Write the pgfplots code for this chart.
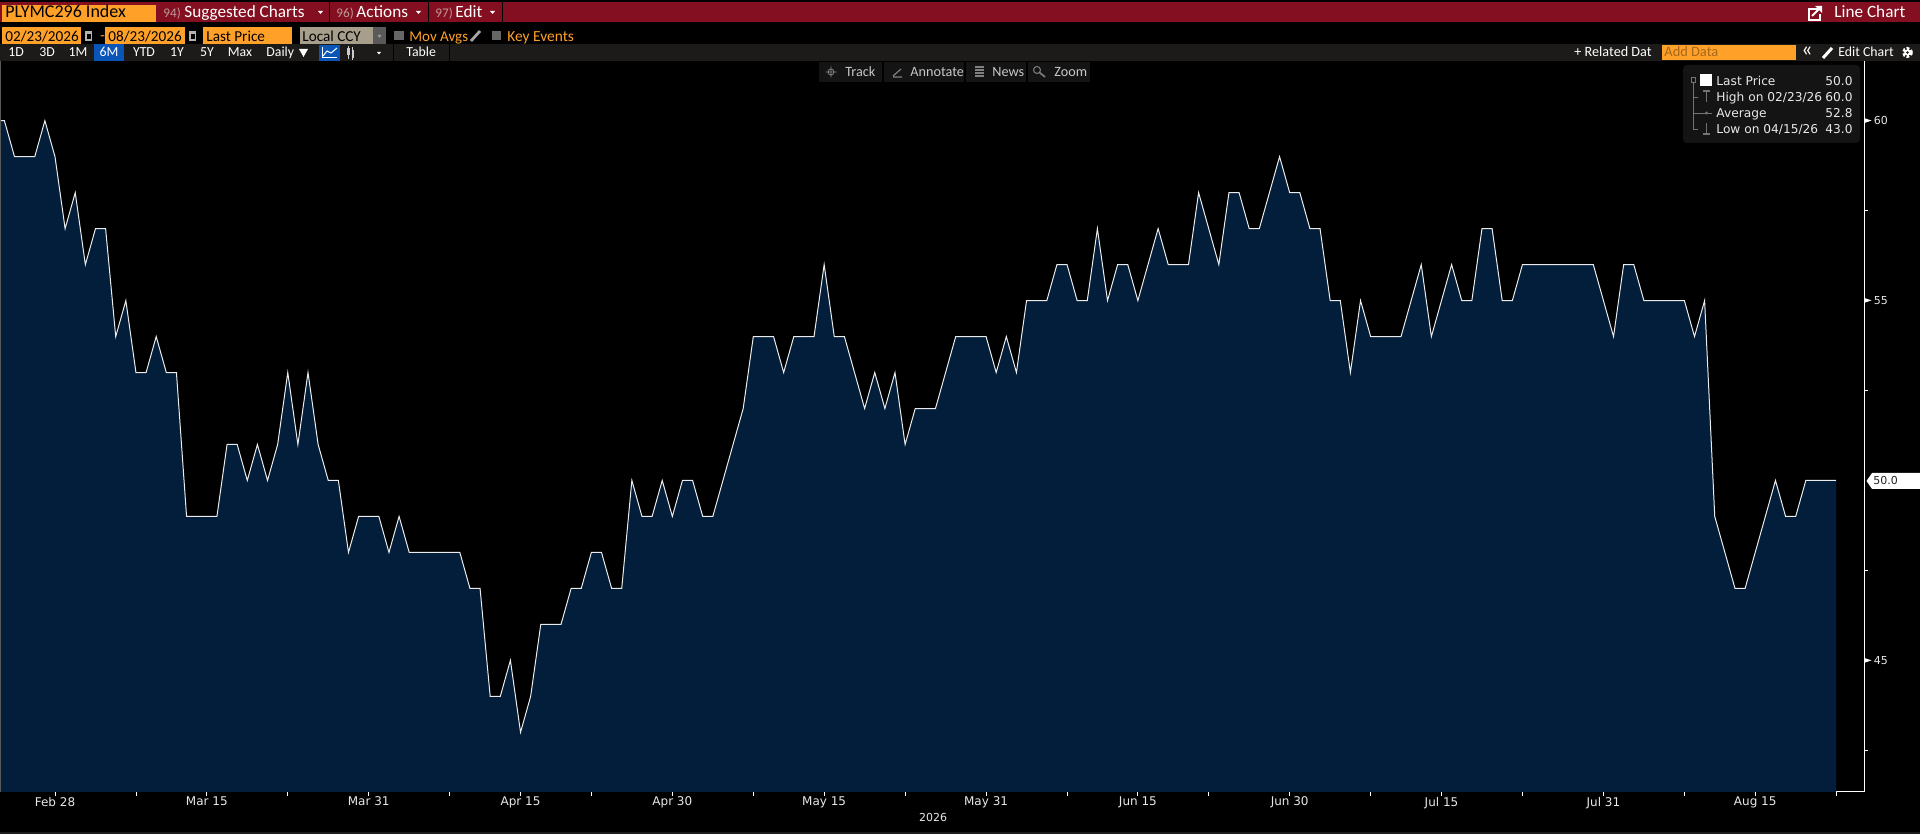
\documentclass[border=0pt]{standalone}
\usepackage{fontspec}
\setmainfont{DejaVu Sans}
\newfontfamily\carl{Carlito}
\usepackage{pgfplots}
\usepackage{pgfplotstable}
\pgfplotsset{compat=1.18}
\definecolor{navy}{HTML}{021E3A}
\definecolor{barred}{HTML}{830F20}
\definecolor{orng}{HTML}{FFA028}
\definecolor{strip}{HTML}{1C1B1A}
\definecolor{blu}{HTML}{0A55B8}
\definecolor{tan}{HTML}{A89E8C}
\definecolor{lg}{HTML}{141414}
\definecolor{txt}{HTML}{E8E8E8}
\pgfplotstableread{
x y
-0.435 60
0 60
1 59
2 59
3 59
4 60
5 59
6 57
7 58
8 56
9 57
10 57
11 54
12 55
13 53
14 53
15 54
16 53
17 53
18 49
19 49
20 49
21 49
22 51
23 51
24 50
25 51
26 50
27 51
28 53
29 51
30 53
31 51
32 50
33 50
34 48
35 49
36 49
37 49
38 48
39 49
40 48
41 48
42 48
43 48
44 48
45 48
46 47
47 47
48 44
49 44
50 45
51 43
52 44
53 46
54 46
55 46
56 47
57 47
58 48
59 48
60 47
61 47
62 50
63 49
64 49
65 50
66 49
67 50
68 50
69 49
70 49
71 50
72 51
73 52
74 54
75 54
76 54
77 53
78 54
79 54
80 54
81 56
82 54
83 54
84 53
85 52
86 53
87 52
88 53
89 51
90 52
91 52
92 52
93 53
94 54
95 54
96 54
97 54
98 53
99 54
100 53
101 55
102 55
103 55
104 56
105 56
106 55
107 55
108 57
109 55
110 56
111 56
112 55
113 56
114 57
115 56
116 56
117 56
118 58
119 57
120 56
121 58
122 58
123 57
124 57
125 58
126 59
127 58
128 58
129 57
130 57
131 55
132 55
133 53
134 55
135 54
136 54
137 54
138 54
139 55
140 56
141 54
142 55
143 56
144 55
145 55
146 57
147 57
148 55
149 55
150 56
151 56
152 56
153 56
154 56
155 56
156 56
157 56
158 55
159 54
160 56
161 56
162 55
163 55
164 55
165 55
166 55
167 54
168 55
169 49
170 48
171 47
172 47
173 48
174 49
175 50
176 49
177 49
178 50
179 50
180 50
181 50
}\pricetable
% px-based text helpers: #1 x, #2 baseline y, #3 anchor, #4 size, #5 colour, #6 text
\newcommand{\C}[6]{\node[anchor=#3,inner sep=0pt,text=#5,font=\carl\fontsize{#4}{#4}\selectfont] at (#1,#2) {#6};}
\newcommand{\D}[6]{\node[anchor=#3,inner sep=0pt,text=#5,font=\fontsize{#4}{#4}\selectfont] at (#1,#2) {#6};}
\begin{document}
\begin{tikzpicture}
\useasboundingbox (0,0) rectangle (960pt,417pt);
\fill[black] (0,0) rectangle (960pt,417pt);
\begin{axis}[
  at={(0pt,21pt)}, anchor=south west,
  scale only axis, width=932.15pt, height=365.5pt,
  xmin=-0.435, xmax=183.78, ymin=41.34, ymax=61.66,
  axis x line=bottom, axis y line=right,
  axis line style={-,white,line width=0.5pt},
  xtick={5,20,36,51,66,81,97,112,127,142,158,173},
  xticklabels={Feb 28,Mar 15,Mar 31,Apr 15,Apr 30,May 15,May 31,Jun 15,Jun 30,Jul 15,Jul 31,Aug 15},
  minor xtick={13,28,44,58,74,89,105,119,135,150,166,181},
  ytick={60,55,45},
  minor ytick={57.5,52.5,47.5,42.5},
  tick style={white,line width=0.4pt},
  tick align=outside,
  major tick length=2pt, minor tick length=2pt,
  /pgf/number format/assume math mode=true,
  tick label style={text=txt},
  xticklabel style={yshift=3pt,font=\fontsize{6.0}{6}\selectfont},
  yticklabel style={anchor=west,xshift=2.6pt,inner sep=0pt,font=\fontsize{5.5}{6}\selectfont},
]
\addplot[fill=navy,draw=none] table[x=x,y=y]{\pricetable} \closedcycle;
\addplot[white!92!black,line width=0.5pt] table[x=x,y=y]{\pricetable};
\end{axis}
\begin{scope}[x=0.5pt,y=-0.5pt,shift={(0,417pt)}]
\fill[black!65] (0,61) rectangle (1,792);
% y tick triangles
\foreach \yy in {120.6,300.4,660.4}{\fill[white] (1864.3,\yy-2.4)--(1871.5,\yy)--(1864.3,\yy+2.4)--cycle;}
% last price tag
\fill[white] (1866.5,481)--(1872,473)--(1920,473)--(1920,489)--(1872,489)--cycle;
\D{1873}{485}{base west}{5.5}{black!85}{50.0}
% 2026
\D{933}{822}{base}{5.5}{txt}{2026}
% bottom separator
\fill[strip] (0,832.5) rectangle (1920,834);
% row 1
\fill[barred] (0,2) rectangle (1920,22.5);
\fill[orng] (2,5) rectangle (156,22.5);
\C{5}{18}{base west}{9.0}{black}{PLYMC296 Index}
\C{163}{17.5}{base west}{6.6}{red!20!white!75!black}{94)}
\C{184}{17.5}{base west}{8.6}{white}{Suggested Charts}
\fill[white] (318,11)--(323,11)--(320.5,14)--cycle;
\fill[black] (329,2) rectangle (330,22.5);
\C{336}{17.5}{base west}{6.6}{red!20!white!75!black}{96)}
\C{356}{17.5}{base west}{8.6}{white}{Actions}
\fill[white] (416,11)--(421,11)--(418.5,14)--cycle;
\fill[black] (428,2) rectangle (429,22.5);
\C{435}{17.5}{base west}{6.6}{red!20!white!75!black}{97)}
\C{455}{17.5}{base west}{8.6}{white}{Edit}
\fill[white] (490,11)--(495,11)--(492.5,14)--cycle;
\fill[black] (502,2) rectangle (503,22.5);
\draw[white,line width=1pt] (1818,9)--(1808.5,9)--(1808.5,20)--(1819.5,20)--(1819.5,14);
\draw[white,line width=1pt] (1812,16)--(1820,8);
\fill[white] (1815,6)--(1822,6)--(1822,13)--cycle;
\C{1834}{17.5}{base west}{8.6}{white}{Line Chart}
% row 2
\fill[orng] (2,27) rectangle (81,44);
\C{5}{42}{base west}{7.6}{black}{02/23/2026}
\fill[gray!60] (85,31) rectangle (92,41); \fill[black] (86.5,34) rectangle (90.5,39.5);
\C{100}{41}{base west}{7.6}{orng}{-}
\fill[orng] (105,27) rectangle (184.5,44);
\C{108}{42}{base west}{7.6}{black}{08/23/2026}
\fill[gray!60] (189,31) rectangle (196,41); \fill[black] (190.5,34) rectangle (194.5,39.5);
\fill[orng] (203,27) rectangle (292,44);
\C{206}{42}{base west}{7.6}{black}{Last Price}
\fill[tan] (300,27) rectangle (373,44);
\C{302}{42}{base west}{7.6}{black}{Local CCY}
\fill[black!65] (373,27) rectangle (386,44);
\fill[black!40] (377.5,35)--(381.5,35)--(379.5,38)--cycle;
\fill[black!60] (394,31) rectangle (404,40);
\C{409}{42}{base west}{7.5}{orng}{Mov Avgs}
\draw[gray!70,line width=1.4pt] (471,41)--(480,31);
\fill[black!60] (492,31) rectangle (501,40);
\C{507}{42}{base west}{7.7}{orng}{Key Events}
% row 3
\fill[strip] (0,44) rectangle (1920,61);
\fill[blu] (94,44) rectangle (124,61);
\C{16}{57}{base}{6.9}{white}{1D}
\C{47}{57}{base}{6.9}{white}{3D}
\C{78}{57}{base}{6.9}{white}{1M}
\C{109}{57}{base}{6.9}{white}{6M}
\C{144}{57}{base}{6.9}{white}{YTD}
\C{177}{57}{base}{6.9}{white}{1Y}
\C{207}{57}{base}{6.9}{white}{5Y}
\C{240}{57}{base}{6.9}{white}{Max}
\C{266}{57}{base west}{6.9}{white}{Daily}
\fill[white] (299,49)--(308,49)--(303.5,57)--cycle;
\fill[blu] (319,45) rectangle (340,61);
\draw[white,line width=0.5pt] (322,58)--(337,58);
\draw[white,line width=0.5pt] (322.5,47)--(322.5,58);
\draw[white,line width=0.5pt] (323,56)--(327,51)--(331,53)--(337,48);
\fill[white!80!black] (347,48) rectangle (349.5,55);
\fill[white!80!black] (351.5,50) rectangle (354,58);
\draw[white!80!black,line width=0.4pt] (348.2,46)--(348.2,59) (352.7,47)--(352.7,60);
\fill[white] (377,52)--(381,52)--(379,54.5)--cycle;
\fill[black] (393,44) rectangle (394,61);
\C{406}{57}{base west}{6.9}{white}{Table}
\fill[black] (449,44) rectangle (450,61);
\C{1574}{57}{base west}{7.1}{white}{+ Related Dat}
\fill[orng] (1662,45) rectangle (1796,60);
\C{1664}{57}{base west}{7.2}{orng!65!black}{Add Data}
\C{1801}{57}{base west}{11}{white}{«}
\draw[white,line width=1.5pt] (1823,58)--(1832,48);
\C{1838}{57}{base west}{6.9}{white}{Edit Chart}
\draw[white,line width=1.3pt,dash pattern=on 1.4pt off 0.9pt] (1907.5,52.5) circle (4.2);
\fill[white] (1907.5,52.5) circle (3.2); \fill[strip] (1907.5,52.5) circle (1.4);
% top-centre buttons
\fill[lg] (819,62) rectangle (882,82);
\fill[lg] (884,62) rectangle (964,82);
\fill[lg] (966,62) rectangle (1026,82);
\fill[lg] (1028,62) rectangle (1090,82);
\draw[gray,line width=0.4pt] (831,72) circle (3) (825.5,72)--(836.5,72) (831,66.5)--(831,77.5);
\draw[gray,line width=0.6pt] (893,76)--(901,69) (893,77)--(902,77);
\draw[gray,line width=0.7pt] (975,67)--(984,67) (975,70)--(984,70) (975,73)--(984,73) (975,76)--(984,76);
\draw[gray,line width=0.5pt] (1037,70) circle (3.5); \draw[gray,line width=0.8pt] (1039.5,72.5)--(1045,77);
\C{845}{76.5}{base west}{7.1}{white!78!black}{Track}
\C{910}{76.5}{base west}{7.1}{white!78!black}{Annotate}
\C{992}{76.5}{base west}{7.1}{white!78!black}{News}
\C{1054}{76.5}{base west}{7.1}{white!78!black}{Zoom}
% legend
\fill[lg,rounded corners=2pt] (1683,65) rectangle (1860,143);
\draw[black!55,line width=0.4pt] (1691,77) rectangle (1695,82);
\draw[black!55,line width=0.4pt] (1693,82)--(1693,129)--(1698,129) (1693,97)--(1698,97) (1693,113)--(1712,113);
\fill[black!55] (1706.5,113) circle (1.6);
\draw[black!55,line width=0.6pt] (1706.5,91)--(1706.5,102) (1703,91)--(1710,91);
\draw[black!55,line width=0.6pt] (1706.5,123)--(1706.5,134) (1703,134)--(1710,134);
\fill[white] (1700,74) rectangle (1712,86);
\D{1716}{86}{base west}{6.1}{txt}{Last Price}
\D{1716}{102}{base west}{6.1}{txt}{High on 02/23/26}
\D{1716}{118}{base west}{6.1}{txt}{Average}
\D{1716}{134}{base west}{6.1}{txt}{Low on 04/15/26}
\D{1853}{86}{base east}{6.1}{txt}{50.0}
\D{1853}{102}{base east}{6.1}{txt}{60.0}
\D{1853}{118}{base east}{6.1}{txt}{52.8}
\D{1853}{134}{base east}{6.1}{txt}{43.0}
\end{scope}
\end{tikzpicture}
\end{document}
